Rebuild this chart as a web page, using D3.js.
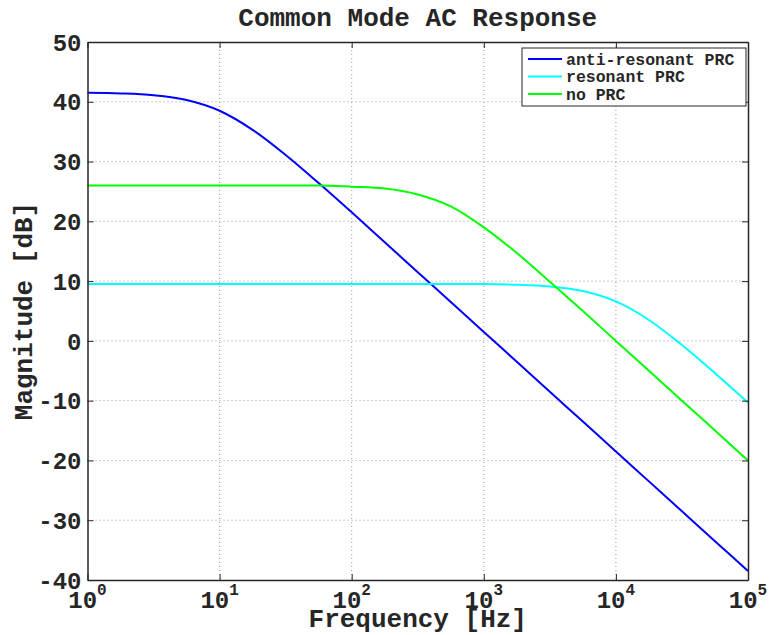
<!DOCTYPE html>
<html>
<head>
<meta charset="utf-8">
<script src="https://cdn.jsdelivr.net/npm/d3@7"></script>
<style>
  body { margin: 0; background: #fff; }
  svg text { font-family: "Liberation Mono", "DejaVu Sans Mono", monospace; font-weight: bold; fill: #262626; }
</style>
</head>
<body>
<svg id="chart" width="769" height="635"></svg>
<script>
// Frequenz-Stuetzstellen (Exponenten, Viertel-Dekaden)
var exponents = [0, 0.25, 0.5, 0.75, 1, 1.25, 1.5, 1.75, 2, 2.25, 2.5, 2.75, 3, 3.25, 3.5, 3.75, 4, 4.25, 4.5, 4.75, 5];

// Betrag in dB
var antiResonant = [41.5, 41.4, 41.1, 40.3, 38.5, 35.3, 31.1, 26.4, 21.5, 16.5, 11.5, 6.5, 1.5, -3.5, -8.5, -13.5, -18.5, -23.5, -28.5, -33.5, -38.5];
var resonant     = [9.5, 9.5, 9.5, 9.5, 9.5, 9.5, 9.5, 9.5, 9.5, 9.5, 9.5, 9.5, 9.5, 9.4, 9.1, 8.35, 6.6, 3.5, -0.7, -5.4, -10.3];
var noPRC        = [26.0, 26.0, 26.0, 26.0, 26.0, 26.0, 26.0, 26.0, 25.8, 25.5, 24.5, 22.5, 19.0, 14.7, 9.9, 5.0, 0.0, -5.0, -10.0, -15.0, -20.0];

var seriesNames  = ["anti-resonant PRC", "resonant PRC", "no PRC"];
var seriesColors = ["#0000ff", "#00ffff", "#00ff00"];

var xTicks = [1, 10, 100, 1000, 10000, 100000];
var yTicks = [-40, -30, -20, -10, 0, 10, 20, 30, 40, 50];

var titleText = "Common Mode AC Response";
var xLabel = "Frequency [Hz]";
var yLabel = "Magnitude [dB]";

// Plotbereich
var plot = { left: 87.5, right: 748, top: 42, bottom: 580 };

var svg = d3.select("#chart");

var x = d3.scaleLog().domain([1, 1e5]).range([plot.left, plot.right]);
var y = d3.scaleLinear().domain([-40, 50]).range([plot.bottom, plot.top]);

// Gitter
var grid = svg.append("g").attr("class", "grid");
grid.selectAll(".gx").data(xTicks.slice(1, -1)).enter().append("line")
  .attr("x1", function(d) { return x(d); }).attr("x2", function(d) { return x(d); })
  .attr("y1", plot.top).attr("y2", plot.bottom)
  .attr("stroke", "#999").attr("stroke-width", 1).attr("stroke-dasharray", "1,3");
grid.selectAll(".gy").data(yTicks.slice(1, -1)).enter().append("line")
  .attr("y1", function(d) { return y(d); }).attr("y2", function(d) { return y(d); })
  .attr("x1", plot.left).attr("x2", plot.right)
  .attr("stroke", "#999").attr("stroke-width", 1).attr("stroke-dasharray", "1,3");

// Kurven
var series = [antiResonant, resonant, noPRC];
var line = d3.line()
  .x(function(d, i) { return x(Math.pow(10, exponents[i])); })
  .y(function(d) { return y(d); })
  .curve(d3.curveMonotoneX);

svg.append("g").selectAll("path").data(series).enter().append("path")
  .attr("d", function(d) { return line(d); })
  .attr("fill", "none")
  .attr("stroke", function(d, i) { return seriesColors[i]; })
  .attr("stroke-width", 2);

// Achsen (box on, Ticks innen)
var tickLen = 6;
var axisColor = "#262626";

var xAxisBottom = d3.axisBottom(x).tickValues(xTicks).tickSizeInner(-tickLen).tickSizeOuter(0).tickFormat("");
var xAxisTop = d3.axisTop(x).tickValues(xTicks).tickSizeInner(-tickLen).tickSizeOuter(0).tickFormat("");
var yAxisLeft = d3.axisLeft(y).tickValues(yTicks).tickSizeInner(-tickLen).tickSizeOuter(0).tickFormat("");
var yAxisRight = d3.axisRight(y).tickValues(yTicks).tickSizeInner(-tickLen).tickSizeOuter(0).tickFormat("");

svg.append("g").attr("transform", "translate(0," + plot.bottom + ")").call(xAxisBottom);
svg.append("g").attr("transform", "translate(0," + plot.top + ")").call(xAxisTop);
svg.append("g").attr("transform", "translate(" + plot.left + ",0)").call(yAxisLeft);
svg.append("g").attr("transform", "translate(" + plot.right + ",0)").call(yAxisRight);

svg.selectAll(".domain").attr("stroke", axisColor).attr("stroke-width", 1.5);
svg.selectAll(".tick line").attr("stroke", axisColor).attr("stroke-width", 1);

// Y-Beschriftung
svg.append("g").selectAll("text").data(yTicks).enter().append("text")
  .attr("x", plot.left - 6)
  .attr("y", function(d) { return y(d); })
  .attr("dy", "0.36em")
  .attr("text-anchor", "end")
  .style("font-size", "24px")
  .text(function(d) { return d; });

// X-Beschriftung 10^n
var xl = svg.append("g").selectAll("text").data(xTicks).enter().append("text")
  .attr("x", function(d) { return x(d); })
  .attr("y", 608)
  .attr("text-anchor", "middle")
  .style("font-size", "24px");
xl.append("tspan").text("10");
xl.append("tspan")
  .attr("dy", -13)
  .style("font-size", "16px")
  .text(function(d) { return Math.round(Math.log10(d)); });

// Titel und Achsentitel
svg.append("text")
  .attr("x", (plot.left + plot.right) / 2)
  .attr("y", 26)
  .attr("text-anchor", "middle")
  .style("font-size", "26px")
  .text(titleText);

svg.append("text")
  .attr("x", (plot.left + plot.right) / 2)
  .attr("y", 627)
  .attr("text-anchor", "middle")
  .style("font-size", "26px")
  .text(xLabel);

svg.append("text")
  .attr("transform", "translate(32," + ((plot.top + plot.bottom) / 2) + ") rotate(-90)")
  .attr("text-anchor", "middle")
  .style("font-size", "26px")
  .text(yLabel);

// Legende
var legend = svg.append("g").attr("transform", "translate(522,48)");
legend.append("rect")
  .attr("width", 224).attr("height", 58)
  .attr("fill", "#fff").attr("stroke", axisColor).attr("stroke-width", 1);
var rows = legend.selectAll(".row").data(seriesNames).enter().append("g")
  .attr("transform", function(d, i) { return "translate(0," + (11 + i * 17.5) + ")"; });
rows.append("line")
  .attr("x1", 6).attr("x2", 40).attr("y1", 0).attr("y2", 0)
  .attr("stroke", function(d, i) { return seriesColors[i]; })
  .attr("stroke-width", 2);
rows.append("text")
  .attr("x", 44).attr("y", 0).attr("dy", "0.35em")
  .style("font-size", "16.5px")
  .text(function(d) { return d; });
</script>
</body>
</html>
